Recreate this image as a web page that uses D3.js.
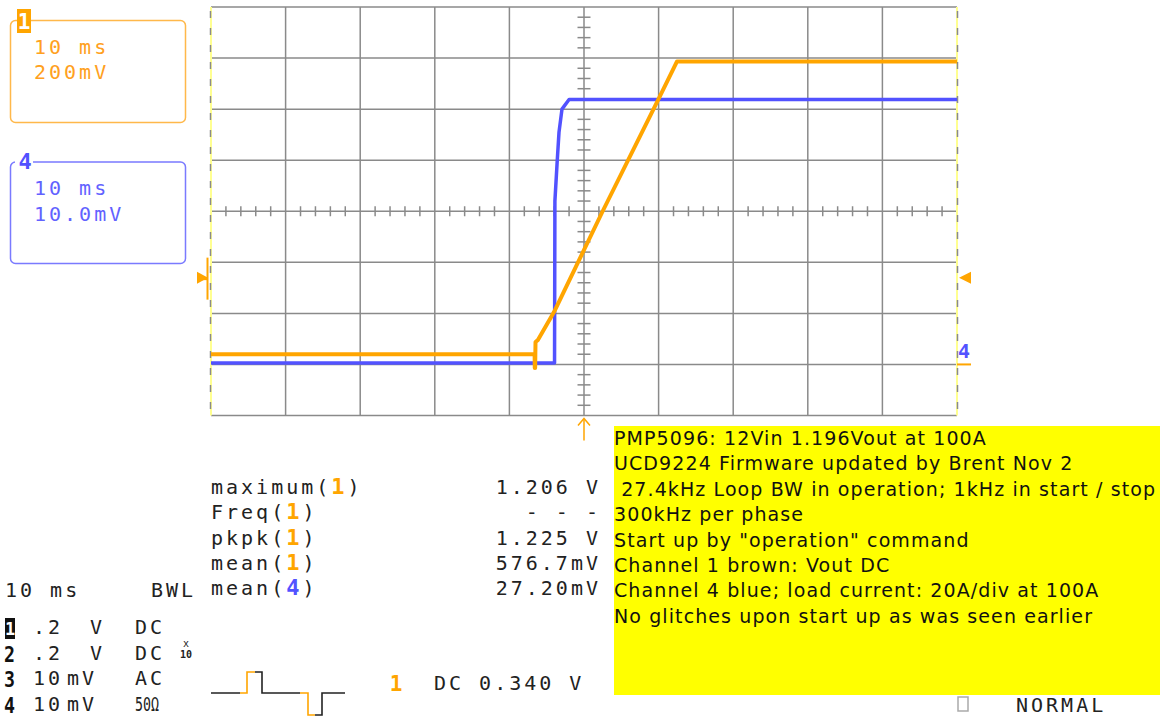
<!DOCTYPE html>
<html>
<head>
<meta charset="utf-8">
<script src="https://cdn.jsdelivr.net/npm/d3@7"></script>
<style>
  html, body { margin: 0; padding: 0; background: #ffffff; }
  svg { display: block; }
  .mono { font-family: "DejaVu Sans Mono", "Liberation Mono", monospace; font-size: 20px; letter-spacing: 3px; }
  .sans { font-family: "DejaVu Sans", Verdana, sans-serif; font-size: 19px; letter-spacing: 1.1px; }
</style>
</head>
<body>
<svg id="chart" width="1160" height="719"></svg>
<script>
// ---------------- data ----------------
// time axis (ms), 10 ms/div, trigger at 0
const timeTicksMs = [-50, -40, -30, -20, -10, 0, 10, 20, 30, 40, 50];
const divTicks = [-4, -3, -2, -1, 0, 1, 2, 3, 4];

// Channel 1 (Vout, 200 mV/div, ground at -3 div)
const ch1TimeMs = [-50, -6.62, -6.6, -6.55, -6.5, -6.2, -4.02, 2.5, 9.92, 12.47, 50];
const ch1Volts  = [0.040, 0.040, -0.014, -0.014, 0.088, 0.095, 0.205, 0.600, 1.035, 1.187, 1.187];

// Channel 4 (load current sense, 10 mV/div, ground at -3 div)
const ch4TimeMs = [-50, -3.95, -3.9, -3.6, -3.35, -2.95, -2.0, 50];
const ch4mV     = [0.3, 0.3, 32, 39.6, 45.5, 50, 51.9, 51.9];

const ch1Label = ["10 ms", "200mV"];
const ch4Label = ["10 ms", "10.0mV"];

const measNames  = ["maximum(", "Freq(", "pkpk(", "mean(", "mean("];
const measChan   = ["1", "1", "1", "1", "4"];
const measValues = ["1.206 V", "- - -", "1.225 V", "576.7mV", "27.20mV"];

const chanNums   = ["1", "2", "3", "4"];
const chanScale  = [".2", ".2", "10", "10"];
const chanUnit   = ["V", "V", "mV", "mV"];
const chanCouple = ["DC", "DC", "AC", "50Ω"];

const noteLines = [
  "PMP5096: 12Vin 1.196Vout at 100A",
  "UCD9224 Firmware updated by Brent Nov 2",
  " 27.4kHz Loop BW in operation; 1kHz in start / stop",
  "300kHz per phase",
  "Start up by \"operation\" command",
  "Channel 1 brown: Vout DC",
  "Channel 4 blue; load current: 20A/div at 100A",
  "No glitches upon start up as was seen earlier"
];

const triggerText = "DC 0.340 V";
const triggerLevelV = 0.340;

// ---------------- styles ----------------
const ORANGE = "#ffa500";
const ORANGE_BOX = "#ffb84a";
const BLUE = "#5252ff";
const BLUE_BOX = "#7a7aff";
const GRID = "#8a8a8a";

const svg = d3.select("#chart");
svg.append("rect").attr("width", 1160).attr("height", 719).attr("fill", "#fff");

// ---------------- scales ----------------
const L = 211, R = 957, T = 7, B = 415.5;
const x = d3.scaleLinear().domain([-50, 50]).range([L, R]);
const yDiv = d3.scaleLinear().domain([-4, 4]).range([B, T]);
const y1 = d3.scaleLinear().domain([-0.2, 1.4]).range([B, T]);   // ch1 volts
const y4 = d3.scaleLinear().domain([-10, 70]).range([B, T]);     // ch4 mV

// ---------------- grid ----------------
const g = svg.append("g");
g.selectAll(".hl").data(divTicks).join("line")
  .attr("x1", L).attr("x2", R)
  .attr("y1", d => yDiv(d)).attr("y2", d => yDiv(d))
  .attr("stroke", GRID).attr("stroke-width", 1.5);
g.selectAll(".vl").data(timeTicksMs.slice(1, -1)).join("line")
  .attr("x1", d => x(d)).attr("x2", d => x(d))
  .attr("y1", T).attr("y2", B)
  .attr("stroke", GRID).attr("stroke-width", 1.5);
[-50, 50].forEach(t => {
  g.append("line").attr("x1", x(t)).attr("x2", x(t)).attr("y1", T).attr("y2", B)
    .attr("stroke", "#ffff90").attr("stroke-width", 2);
  g.append("line").attr("x1", x(t) + (t < 0 ? -0.5 : 0.5)).attr("x2", x(t) + (t < 0 ? -0.5 : 0.5))
    .attr("y1", T + 4).attr("y2", B)
    .attr("stroke", GRID).attr("stroke-width", 1.5).attr("stroke-dasharray", "7,10");
});
const minorT = d3.range(-48, 49, 2).filter(t => t % 10 !== 0);
g.selectAll(".mt").data(minorT).join("line")
  .attr("x1", d => x(d)).attr("x2", d => x(d))
  .attr("y1", yDiv(0) - 5).attr("y2", yDiv(0) + 5)
  .attr("stroke", GRID).attr("stroke-width", 1.5);
const minorD = d3.range(-3.8, 3.81, 0.2).map(d => +d.toFixed(1)).filter(d => Math.abs(d - Math.round(d)) > 0.01);
g.selectAll(".md").data(minorD).join("line")
  .attr("x1", x(0) - 6.5).attr("x2", x(0) + 6.5)
  .attr("y1", d => yDiv(d)).attr("y2", d => yDiv(d))
  .attr("stroke", GRID).attr("stroke-width", 1.5);

// ---------------- traces ----------------
const ch4Data = ch4TimeMs.map((t, i) => [t, ch4mV[i]]);
const ch1Data = ch1TimeMs.map((t, i) => [t, ch1Volts[i]]);
svg.append("path")
  .attr("d", d3.line().x(d => x(d[0])).y(d => y4(d[1]))(ch4Data))
  .attr("fill", "none").attr("stroke", BLUE).attr("stroke-width", 3.5)
  .attr("stroke-linejoin", "round");
svg.append("path")
  .attr("d", d3.line().x(d => x(d[0])).y(d => y1(d[1]))(ch1Data))
  .attr("fill", "none").attr("stroke", ORANGE).attr("stroke-width", 4)
  .attr("stroke-linejoin", "round");

// ---------------- markers ----------------
const trigY = y1(triggerLevelV);
svg.append("line").attr("x1", L - 3.5).attr("x2", L - 3.5).attr("y1", trigY - 20).attr("y2", trigY + 22)
  .attr("stroke", ORANGE).attr("stroke-width", 2);
svg.append("path").attr("d", `M${L - 14},${trigY - 6} L${L - 3},${trigY} L${L - 14},${trigY + 6} Z`)
  .attr("fill", ORANGE);
svg.append("line").attr("x1", L - 10).attr("x2", L - 3).attr("y1", trigY + 1).attr("y2", trigY + 1)
  .attr("stroke", ORANGE).attr("stroke-width", 3);
svg.append("path").attr("d", `M${R + 2},${trigY} L${R + 14},${trigY - 6} L${R + 14},${trigY + 6} Z`)
  .attr("fill", ORANGE);
svg.append("line").attr("x1", x(0)).attr("x2", x(0)).attr("y1", B + 4).attr("y2", B + 25)
  .attr("stroke", ORANGE).attr("stroke-width", 1.5);
svg.append("path").attr("d", `M${x(0) - 6},${B + 10} L${x(0)},${B + 3} L${x(0) + 6},${B + 10}`)
  .attr("fill", "none").attr("stroke", ORANGE).attr("stroke-width", 1.5);
svg.append("line").attr("x1", R).attr("x2", R + 14).attr("y1", y4(0)).attr("y2", y4(0))
  .attr("stroke", ORANGE).attr("stroke-width", 2);
svg.append("text").attr("x", R + 1).attr("y", y4(0) - 6)
  .attr("font-family", "DejaVu Sans Mono").attr("font-weight", "bold").attr("font-size", 20)
  .attr("fill", BLUE).text("4");

// ---------------- channel boxes ----------------
function chanBox(y0, h, color, textColor, lines) {
  svg.append("rect").attr("x", 10.5).attr("y", y0).attr("width", 175).attr("height", h)
    .attr("rx", 5).attr("fill", "none").attr("stroke", color).attr("stroke-width", 1.5);
  lines.forEach((s, i) => {
    svg.append("text").attr("class", "mono").attr("x", 34).attr("y", y0 + 33 + i * 25.5)
      .attr("fill", textColor).text(s);
  });
}
chanBox(20.5, 102, ORANGE_BOX, "#ffa020", ch1Label);
svg.append("rect").attr("x", 17).attr("y", 9).attr("width", 14).attr("height", 24).attr("fill", ORANGE);
svg.append("text").attr("x", 24).attr("y", 29).attr("text-anchor", "middle")
  .attr("font-family", "DejaVu Sans Mono").attr("font-weight", "bold").attr("font-size", 21)
  .attr("fill", "#fff").text("1");
chanBox(162, 101.5, BLUE_BOX, "#6262ff", ch4Label);
svg.append("rect").attr("x", 15).attr("y", 158).attr("width", 18).attr("height", 8).attr("fill", "#fff");
svg.append("text").attr("x", 25).attr("y", 169).attr("text-anchor", "middle")
  .attr("font-family", "DejaVu Sans Mono").attr("font-weight", "bold").attr("font-size", 22)
  .attr("fill", BLUE).text("4");

// ---------------- measurements ----------------
measNames.forEach((n, i) => {
  const yy = 494 + i * 25.3;
  const t = svg.append("text").attr("class", "mono").attr("x", 211).attr("y", yy).attr("fill", "#222");
  t.append("tspan").text(n);
  t.append("tspan").attr("font-weight", "bold").attr("font-size", 22)
    .attr("fill", measChan[i] === "4" ? BLUE : ORANGE).text(measChan[i]);
  t.append("tspan").text(")");
  svg.append("text").attr("class", "mono").attr("x", 601).attr("y", yy)
    .attr("text-anchor", "end").attr("fill", "#222").text(measValues[i]);
});

// ---------------- channel settings (bottom left) ----------------
svg.append("text").attr("class", "mono").attr("x", 5).attr("y", 597).attr("fill", "#222").text("10 ms");
svg.append("text").attr("class", "mono").attr("x", 151).attr("y", 597).attr("fill", "#222").text("BWL");
chanNums.forEach((c, i) => {
  const yy = 634 + i * 25.6;
  if (i === 0) {
    svg.append("rect").attr("x", 5).attr("y", yy - 16).attr("width", 10).attr("height", 21).attr("fill", "#111");
    svg.append("text").attr("x", 10).attr("y", yy + 1).attr("text-anchor", "middle")
      .attr("font-family", "DejaVu Sans Mono").attr("font-weight", "bold").attr("font-size", 17)
      .attr("fill", "#fff").text(c);
  } else {
    svg.append("text").attr("x", 4).attr("y", yy + 2)
      .attr("font-family", "DejaVu Sans Mono").attr("font-weight", "bold").attr("font-size", 21)
      .attr("textLength", 11).attr("lengthAdjust", "spacingAndGlyphs")
      .attr("fill", "#111").text(c);
  }
  svg.append("text").attr("class", "mono").attr("x", 33).attr("y", yy).attr("fill", "#222").text(chanScale[i]);
  svg.append("text").attr("class", "mono").attr("x", chanUnit[i] === "V" ? 90 : 67).attr("y", yy).attr("fill", "#222").text(chanUnit[i]);
  const cp = svg.append("text").attr("class", "mono").attr("x", 135).attr("y", yy).attr("fill", "#222").text(chanCouple[i]);
  if (chanCouple[i] === "50Ω") cp.attr("textLength", 24).attr("lengthAdjust", "spacingAndGlyphs").style("letter-spacing", "0px");
});
svg.append("text").attr("x", 186).attr("y", 647).attr("text-anchor", "middle")
  .attr("font-family", "DejaVu Sans Mono").attr("font-size", 10).attr("fill", "#222").text("x");
svg.append("text").attr("x", 186).attr("y", 658).attr("text-anchor", "middle")
  .attr("font-family", "DejaVu Sans Mono").attr("font-weight", "bold").attr("font-size", 10).attr("fill", "#222").text("10");

// ---------------- trigger icon ----------------
const ti = svg.append("g").attr("fill", "none").attr("stroke-width", 1.6);
const base = 693, up = 672, dn = 715;
ti.append("path").attr("stroke", "#222")
  .attr("d", `M211,${base} H240 M255,${up} H262 V${base} H300 M315,${dn} H322 V${base} H345`);
ti.append("path").attr("stroke", ORANGE)
  .attr("d", `M240,${base} H247 V${up} H255 M300,${base} H308 V${dn} H315`);
svg.append("text").attr("x", 396).attr("y", 691).attr("text-anchor", "middle")
  .attr("font-family", "DejaVu Sans Mono").attr("font-weight", "bold").attr("font-size", 21)
  .attr("fill", ORANGE).text("1");
svg.append("text").attr("class", "mono").attr("x", 434).attr("y", 690).attr("fill", "#222").text(triggerText);

// ---------------- note box ----------------
svg.append("rect").attr("x", 614).attr("y", 426).attr("width", 546).attr("height", 269).attr("fill", "#ffff00");
noteLines.forEach((s, i) => {
  svg.append("text").attr("class", "sans").attr("x", 614).attr("y", 445 + i * 25.4)
    .attr("fill", "#111").attr("xml:space", "preserve").style("white-space", "pre").text(s);
});

// ---------------- status ----------------
svg.append("rect").attr("x", 958).attr("y", 697).attr("width", 10).attr("height", 14)
  .attr("fill", "#fff").attr("stroke", "#aaa").attr("stroke-width", 1.5);
svg.append("text").attr("class", "mono").attr("x", 1016).attr("y", 712).attr("fill", "#222").text("NORMAL");
</script>
</body>
</html>
